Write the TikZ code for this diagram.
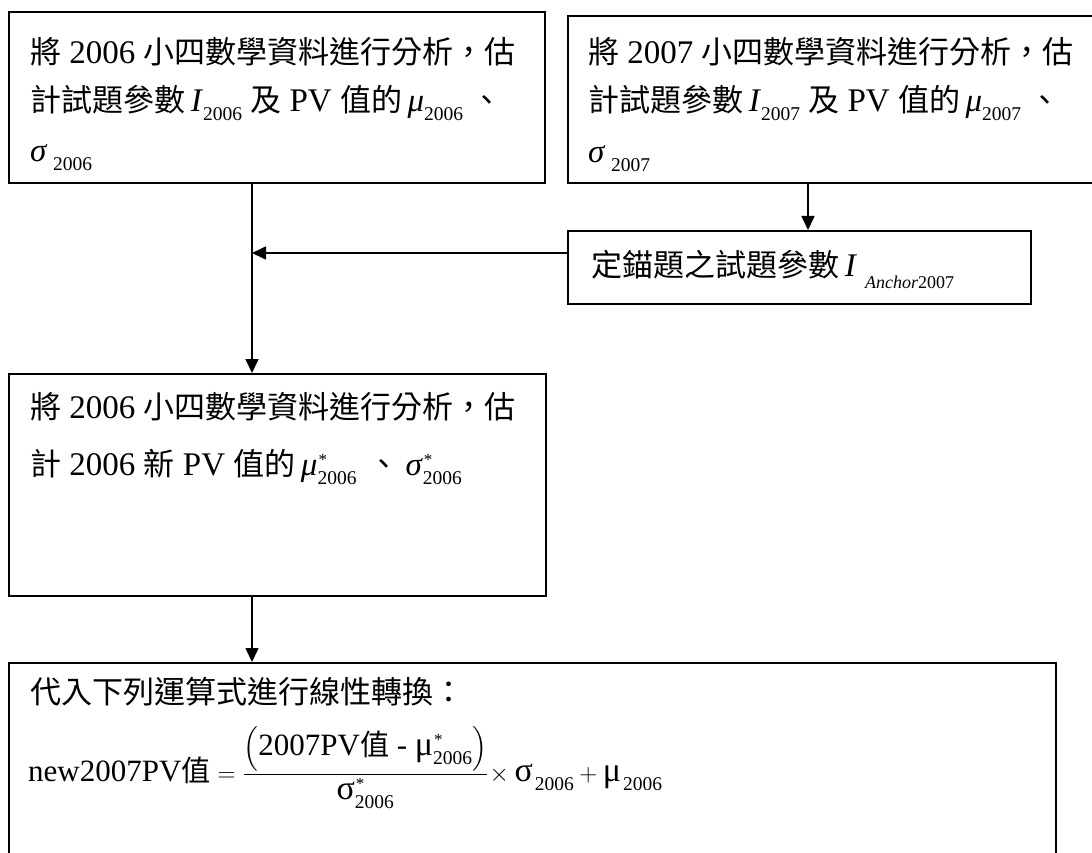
\documentclass[tikz,border=0pt]{standalone}
\usepackage{amsmath}
\usepackage{fontspec}
\setmainfont{Liberation Serif}
\newfontfamily\cjk[Scale=0.94]{Noto Sans CJK TC}
\usetikzlibrary{arrows.meta,calc}
\newcommand{\cj}[1]{{\cjk #1}}
\newcommand{\sbx}[1]{\raisebox{-9pt}{\fontsize{19.5}{19.5}\selectfont #1}}
\newcommand{\ssx}[1]{\makebox[0pt][l]{\raisebox{10pt}{\fontsize{17}{17}\selectfont\hspace{1pt}*}}\raisebox{-9pt}{\fontsize{19.5}{19.5}\selectfont #1}}
\newcommand{\gk}[1]{{\fontsize{34}{34}\selectfont #1}}
\begin{document}
\begin{tikzpicture}[x=1pt,y=-1pt,
  box/.style={draw,line width=2pt,rectangle,anchor=north west,inner sep=0pt},
  txt/.style={anchor=base west,inner sep=0pt,font=\fontsize{33}{33}\selectfont},
  conn/.style={line width=1.6pt,-{Triangle[length=14pt,width=13pt]}}]
\useasboundingbox (0,0) rectangle (1092,853);
% boxes
\node[box,minimum width=536pt,minimum height=171pt] (b1) at (8,11) {};
\node[box,minimum width=540pt,minimum height=167pt] (b2) at (567,15) {};
\node[box,minimum width=463pt,minimum height=73pt] (a) at (567,230) {};
\node[box,minimum width=537pt,minimum height=222pt] (b3) at (8,373) {};
\node[box,minimum width=1047pt,minimum height=230pt] (b4) at (8,662) {};
% texts box 1
\node[txt] (t1a) at ($(b1.north west)+(22,53)$) {\cj{將} 2006 \cj{小四數學資料進行分析，估}};
\node[txt] (t1b) at ($(b1.north west)+(22,101)$) {\cj{計試題參數}\,\textit{I}\sbx{2006} \cj{及} PV \cj{值的}\,\textit{μ}\sbx{2006}\hspace{8pt}\cj{、}};
\node[txt] (t1c) at ($(b1.north west)+(22,151)$) {\textit{σ}\,\sbx{2006}};
% texts box 2
\node[txt] (t2a) at ($(b2.north west)+(21,49)$) {\cj{將} 2007 \cj{小四數學資料進行分析，估}};
\node[txt] (t2b) at ($(b2.north west)+(21,97)$) {\cj{計試題參數}\,\textit{I}\sbx{2007} \cj{及} PV \cj{值的}\,\textit{μ}\sbx{2007}\hspace{8pt}\cj{、}};
\node[txt] (t2c) at ($(b2.north west)+(21,148)$) {\textit{σ}\,\sbx{2007}};
% anchor box text
\node[txt] (ta) at ($(a.north west)+(24,46)$) {\cj{定錨題之試題參數}\,\textit{I}\hspace{8pt}\raisebox{-12pt}{\fontsize{18}{18}\selectfont\textit{Anchor}2007}};
% box 3 text
\node[txt] (t3a) at ($(b3.north west)+(22,45)$) {\cj{將} 2006 \cj{小四數學資料進行分析，估}};
\node[txt] (t3b) at ($(b3.north west)+(22,102)$) {\cj{計} 2006 \cj{新} PV \cj{值的}\,\textit{μ}\ssx{2006}\hspace{12pt}\cj{、}\hspace{6pt}\textit{σ}\ssx{2006}};
% box 4 text
\node[txt] (t4a) at ($(b4.north west)+(22,41)$) {\cj{代入下列運算式進行線性轉換：}};
\node[txt,font=\fontsize{31}{31}\selectfont] (t4b) at ($(b4.north west)+(20,119)$)
 {$\displaystyle \text{new2007PV\cj{值}} = \frac{\left(\text{2007PV\cj{值} - \gk{μ}\ssx{2006}}\right)}{\text{\gk{σ}\ssx{2006}}}\!\times\text{\gk{σ}\hspace{2pt}\sbx{2006}} + \text{\gk{μ}\hspace{2pt}\sbx{2006}}$};
% connectors
\coordinate (j) at (252,253);
\coordinate (k) at (808,253);
\draw[conn] (j |- b1.south) -- (j |- b3.north);
\draw[conn] (a.west |- j) -- (j);
\draw[conn] (k |- b2.south) -- (k |- a.north);
\draw[conn] (j |- b3.south) -- (j |- b4.north);
\end{tikzpicture}
\end{document}
